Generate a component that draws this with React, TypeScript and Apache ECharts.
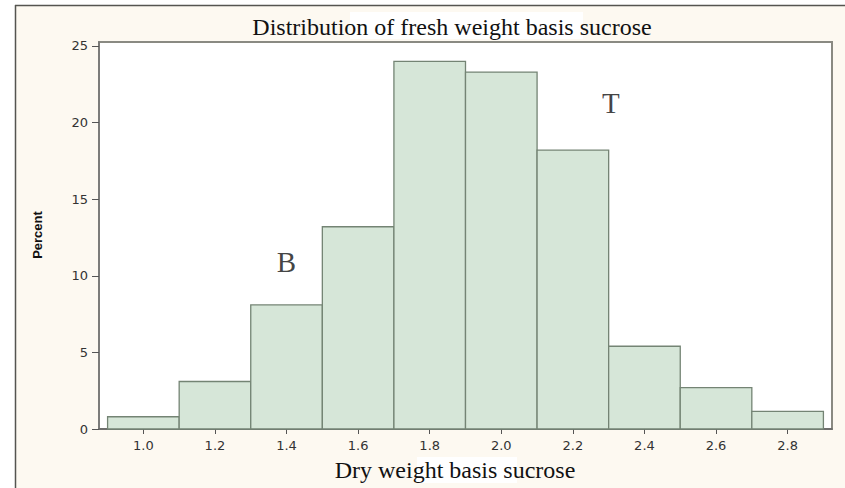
import React, { useEffect, useRef } from "react";
import * as echarts from "echarts";

const binStarts = [0.9, 1.1, 1.3, 1.5, 1.7, 1.9, 2.1, 2.3, 2.5, 2.7];
const binEnds = [1.1, 1.3, 1.5, 1.7, 1.9, 2.1, 2.3, 2.5, 2.7, 2.9];
const percents = [0.8, 3.1, 8.1, 13.2, 24.0, 23.3, 18.2, 5.4, 2.7, 1.15];
const xTicks = [1.0, 1.2, 1.4, 1.6, 1.8, 2.0, 2.2, 2.4, 2.6, 2.8];
const yTicks = [0, 5, 10, 15, 20, 25];
const titleText = "Distribution of fresh weight basis sucrose";
const xLabel = "Dry weight basis sucrose";
const yLabel = "Percent";
const annotations = [
  { text: "B", x: 1.4, y: 10.9 },
  { text: "T", x: 2.306, y: 21.3 },
];

export default function App() {
  const ref = useRef<HTMLDivElement>(null);
  useEffect(() => {
    if (!ref.current) return;
    const chart = echarts.init(ref.current, null, { renderer: "svg" });
    const data = binStarts.map((s, i) => [s, binEnds[i], percents[i]]);
    const option: any = {
      animation: false,
      backgroundColor: "#ffffff",
      graphic: [
        {
          type: "rect",
          z: -10,
          silent: true,
          shape: { x: 15, y: 5, width: 830, height: 483 },
          style: { fill: "#fdf9f1" },
        },
        {
          type: "line",
          z: -9,
          shape: { x1: 15.5, y1: 5, x2: 15.5, y2: 488 },
          style: { stroke: "#555550", lineWidth: 1.5 },
        },
        {
          type: "line",
          z: -9,
          shape: { x1: 15, y1: 5.5, x2: 845, y2: 5.5 },
          style: { stroke: "#555550", lineWidth: 1.5 },
        },
        {
          type: "rect",
          z: -8,
          shape: { x: 350, y: 12, width: 233, height: 27 },
          style: { fill: "#ffffff" },
        },
        {
          type: "rect",
          z: -8,
          shape: { x: 417, y: 457, width: 100, height: 26 },
          style: { fill: "#ffffff" },
        },
        {
          type: "text",
          x: 452,
          y: 27,
          style: {
            text: titleText,
            font: "24px 'Liberation Serif', 'Times New Roman', serif",
            fill: "#111",
            align: "center",
            verticalAlign: "middle",
          },
        },
        {
          type: "text",
          x: 455,
          y: 470,
          style: {
            text: xLabel,
            font: "24px 'Liberation Serif', 'Times New Roman', serif",
            fill: "#111",
            align: "center",
            verticalAlign: "middle",
          },
        },
        {
          type: "text",
          x: 37,
          y: 235,
          rotation: Math.PI / 2,
          style: {
            text: yLabel,
            font: "bold 13px 'Liberation Sans Narrow', 'Liberation Sans', Arial, sans-serif",
            fill: "#111",
            align: "center",
            verticalAlign: "middle",
          },
        },
      ],
      grid: {
        left: 99,
        top: 42,
        right: 13,
        bottom: 59,
        show: true,
        backgroundColor: "#ffffff",
        borderColor: "#8a8a82",
        borderWidth: 2,
      },
      xAxis: {
        type: "value",
        min: 0.876,
        max: 2.924,
        splitLine: { show: false },
        axisLine: { show: true, lineStyle: { color: "#666", width: 1.5 } },
        axisTick: {
          show: true,
          length: 5,
          customValues: xTicks,
          lineStyle: { color: "#555" },
        },
        axisLabel: {
          customValues: xTicks,
          formatter: (v: number) => v.toFixed(1),
          color: "#333",
          fontSize: 13,
          fontFamily: "'DejaVu Sans', sans-serif",
          margin: 10,
        },
      },
      yAxis: {
        type: "value",
        min: 0,
        max: 25.26,
        splitLine: { show: false },
        axisLine: { show: true, lineStyle: { color: "#777", width: 1.5 } },
        axisTick: {
          show: true,
          length: 7,
          customValues: yTicks,
          lineStyle: { color: "#555" },
        },
        axisLabel: {
          customValues: yTicks,
          color: "#333",
          fontSize: 13,
          fontFamily: "'DejaVu Sans', sans-serif",
          margin: 11,
        },
      },
      series: [
        {
          type: "custom",
          data,
          encode: { x: [0, 1], y: 2 },
          renderItem: (params: any, api: any) => {
            const p0 = api.coord([api.value(0), api.value(2)]);
            const p1 = api.coord([api.value(1), 0]);
            return {
              type: "rect",
              shape: { x: p0[0], y: p0[1], width: p1[0] - p0[0], height: p1[1] - p0[1] },
              style: { fill: "#d6e6d8", stroke: "#748474", lineWidth: 1.3 },
            };
          },
        },
        {
          type: "scatter",
          symbolSize: 0,
          data: annotations.map((a) => ({ value: [a.x, a.y], name: a.text })),
          label: {
            show: true,
            position: "inside",
            formatter: (p: any) => p.name,
            fontSize: 29,
            fontFamily: "'Liberation Serif', 'Times New Roman', serif",
            color: "#111",
          },
          silent: true,
        },
      ],
    };
    chart.setOption(option);
    return () => chart.dispose();
  }, []);
  return (
    <div
      ref={ref}
      style={{ position: "absolute", left: 0, top: 0, width: 845, height: 488 }}
    />
  );
}
